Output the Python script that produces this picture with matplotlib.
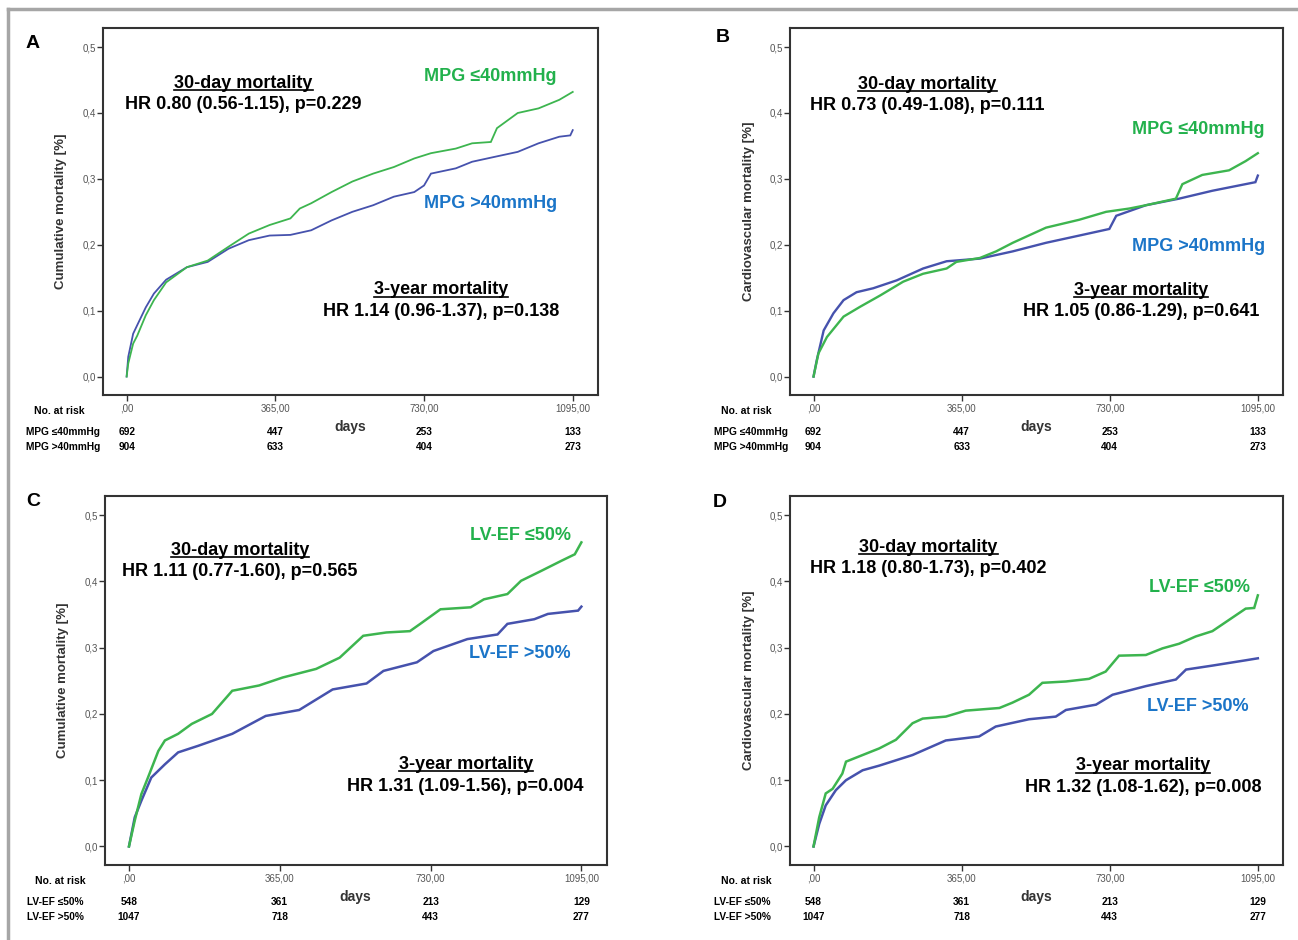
import matplotlib
matplotlib.use('Agg')
import matplotlib.pyplot as plt
from matplotlib.lines import Line2D

plt.rcParams['font.family'] = ['Liberation Sans', 'DejaVu Sans']

GREEN_LINE = '#3db54f'
BLUE_LINE = '#4652ad'
GREEN_TXT = '#22b14c'
BLUE_TXT = '#1b75c8'

# --- data (days, cumulative mortality) ---
a_green_days = [0, 4, 16, 26, 47, 67, 97, 148, 199, 250, 300, 351, 402, 425, 453, 503, 554, 605,
                656, 706, 747, 808, 848, 894, 909, 960, 1011, 1062, 1095]
a_green = [0, 0.02, 0.05, 0.062, 0.093, 0.116, 0.143, 0.166, 0.176, 0.197, 0.217, 0.230, 0.240,
           0.255, 0.263, 0.280, 0.296, 0.308, 0.318, 0.331, 0.339, 0.346, 0.354, 0.356, 0.377,
           0.400, 0.407, 0.420, 0.432]
a_blue_days = [0, 4, 16, 26, 47, 67, 97, 148, 199, 250, 300, 351, 402, 453, 503, 554, 605, 656,
               706, 730, 747, 808, 848, 900, 960, 1011, 1062, 1089, 1095]
a_blue = [0, 0.03, 0.065, 0.078, 0.105, 0.126, 0.147, 0.166, 0.174, 0.194, 0.207, 0.214, 0.215,
          0.222, 0.237, 0.250, 0.260, 0.273, 0.280, 0.290, 0.308, 0.316, 0.326, 0.333, 0.341,
          0.354, 0.364, 0.366, 0.374]

b_green_days = [0, 12, 33, 74, 115, 164, 221, 270, 328, 352, 410, 450, 491, 573, 655, 721, 778,
                819, 893, 909, 958, 1024, 1065, 1095]
b_green = [0, 0.035, 0.06, 0.091, 0.106, 0.123, 0.144, 0.156, 0.164, 0.174, 0.18, 0.19, 0.203,
           0.226, 0.238, 0.25, 0.255, 0.26, 0.27, 0.292, 0.306, 0.313, 0.327, 0.339]
b_blue_days = [0, 8, 25, 49, 74, 106, 147, 205, 270, 328, 410, 491, 573, 655, 729, 746, 819, 901,
               983, 1089, 1095]
b_blue = [0, 0.025, 0.07, 0.096, 0.116, 0.128, 0.134, 0.146, 0.164, 0.175, 0.179, 0.19, 0.203,
          0.214, 0.224, 0.244, 0.26, 0.27, 0.282, 0.295, 0.305]

c_green_days = [0, 14, 30, 46, 71, 87, 119, 152, 201, 250, 315, 372, 453, 510, 567, 623, 680,
                705, 754, 827, 859, 916, 949, 998, 1046, 1079, 1095]
c_green = [0, 0.039, 0.079, 0.104, 0.144, 0.16, 0.17, 0.185, 0.2, 0.235, 0.243, 0.255, 0.268,
           0.285, 0.318, 0.323, 0.325, 0.336, 0.358, 0.361, 0.373, 0.381, 0.401, 0.416, 0.431,
           0.441, 0.459]
c_blue_days = [0, 14, 30, 54, 87, 119, 168, 250, 331, 412, 493, 575, 616, 697, 737, 819, 892, 916,
               981, 1014, 1087, 1095]
c_blue = [0, 0.044, 0.069, 0.104, 0.124, 0.142, 0.152, 0.17, 0.197, 0.206, 0.237, 0.246, 0.265,
          0.278, 0.295, 0.313, 0.32, 0.336, 0.343, 0.351, 0.356, 0.362]

d_green_days = [0, 14, 30, 47, 71, 80, 121, 162, 203, 244, 269, 326, 375, 458, 490, 531, 564, 622,
                679, 720, 753, 819, 860, 901, 942, 983, 1024, 1065, 1086, 1095]
d_green = [0, 0.044, 0.08, 0.087, 0.11, 0.128, 0.138, 0.148, 0.161, 0.186, 0.193, 0.196, 0.205,
           0.209, 0.217, 0.229, 0.247, 0.249, 0.253, 0.264, 0.288, 0.289, 0.299, 0.306, 0.317,
           0.325, 0.342, 0.359, 0.36, 0.379]
d_blue_days = [0, 14, 30, 55, 80, 121, 162, 244, 326, 408, 449, 531, 597, 622, 696, 737, 819, 893,
               918, 983, 1065, 1095]
d_blue = [0, 0.034, 0.062, 0.085, 0.1, 0.115, 0.122, 0.138, 0.16, 0.166, 0.181, 0.192, 0.196,
          0.206, 0.214, 0.229, 0.242, 0.252, 0.267, 0.273, 0.281, 0.284]

# numbers at risk
mpg_low_risk = [692, 447, 253, 133]
mpg_high_risk = [904, 633, 404, 273]
ef_low_risk = [548, 361, 213, 129]
ef_high_risk = [1047, 718, 443, 277]

x_ticks = [0, 365, 730, 1095]
x_ticklabels = [',00', '365,00', '730,00', '1095,00']
y_ticks = [0.0, 0.1, 0.2, 0.3, 0.4, 0.5]
y_ticklabels = ['0,0', '0,1', '0,2', '0,3', '0,4', '0,5']

W, H = 1298, 940
fig = plt.figure(figsize=(W / 100, H / 100), dpi=100)
underlined = []


def px_rect(left, top, right, bottom):
    return [left / W, 1 - bottom / H, (right - left) / W, (bottom - top) / H]


def draw_panel(rect, letter, letter_xy, ylabel, green, blue, names, risks, hr30, hr3y, pos, lw):
    ax = fig.add_axes(rect)
    ax.plot(blue[0], blue[1], color=BLUE_LINE, lw=lw, solid_joinstyle='miter')
    ax.plot(green[0], green[1], color=GREEN_LINE, lw=lw, solid_joinstyle='miter')
    ax.set_xlim(-58, 1157)
    ax.set_ylim(-0.028, 0.529)
    ax.set_xticks(x_ticks)
    ax.set_xticklabels(x_ticklabels)
    ax.set_yticks(y_ticks)
    ax.set_yticklabels(y_ticklabels)
    ax.tick_params(direction='out', length=4, width=1, color='#333333', labelsize=7,
                   labelcolor='#555555')
    ax.tick_params(axis='y', pad=1)
    ax.tick_params(axis='x', pad=2)
    for s in ax.spines.values():
        s.set_linewidth(1.5)
        s.set_color('#333333')
    ax.set_ylabel(ylabel, fontsize=9.5, fontweight='bold', color='#333333')
    ax.yaxis.set_label_coords(-0.072, 0.5)

    fig.text(letter_xy[0] / W, 1 - letter_xy[1] / H, letter, fontsize=14, fontweight='bold',
             ha='center', va='center')

    t = ax.text(pos[0][0], pos[0][1], '30-day mortality', fontsize=13, fontweight='bold',
                ha='center', va='center')
    underlined.append(t)
    ax.text(pos[0][0], pos[0][1] - 0.032, hr30, fontsize=13, fontweight='bold',
            ha='center', va='center')
    t = ax.text(pos[1][0], pos[1][1], '3-year mortality', fontsize=13, fontweight='bold',
                ha='center', va='center')
    underlined.append(t)
    ax.text(pos[1][0], pos[1][1] - 0.033, hr3y, fontsize=13, fontweight='bold',
            ha='center', va='center')
    ax.text(pos[2][0], pos[2][1], names[0], fontsize=13, fontweight='bold', color=GREEN_TXT,
            ha='right', va='center')
    ax.text(pos[3][0], pos[3][1], names[1], fontsize=13, fontweight='bold', color=BLUE_TXT,
            ha='right', va='center')

    # risk table under the x axis
    tr = ax.get_xaxis_transform()
    ax.text(548, -0.087, 'days', transform=tr, fontsize=10, fontweight='bold', color='#333333',
            ha='center', va='center', clip_on=False)
    ax.text(-228, -0.044, 'No. at risk', transform=tr, fontsize=7.5, fontweight='bold',
            ha='left', va='center', clip_on=False)
    for row, (name, vals) in enumerate(zip(names, risks)):
        yy = -0.101 - 0.04 * row
        ax.text(-246, yy, name, transform=tr, fontsize=7.3, fontweight='bold',
                ha='left', va='center', clip_on=False)
        for d, v in zip(x_ticks, vals):
            ax.text(d, yy, str(v), transform=tr, fontsize=7.3, fontweight='bold',
                    ha='center', va='center', clip_on=False)
    return ax


mpg_names = ['MPG \u226440mmHg', 'MPG >40mmHg']
ef_names = ['LV-EF \u226450%', 'LV-EF >50%']

draw_panel(px_rect(103, 28, 598, 395), 'A', (33, 43), 'Cumulative mortality [%]',
           (a_green_days, a_green), (a_blue_days, a_blue), mpg_names,
           [mpg_low_risk, mpg_high_risk],
           'HR 0.80 (0.56-1.15), p=0.229', 'HR 1.14 (0.96-1.37), p=0.138',
           [(287, 0.445), (772, 0.132), (1056, 0.456), (1056, 0.263)], 1.3)
draw_panel(px_rect(790, 28, 1283, 395), 'B', (723, 38), 'Cardiovascular mortality [%]',
           (b_green_days, b_green), (b_blue_days, b_blue), mpg_names,
           [mpg_low_risk, mpg_high_risk],
           'HR 0.73 (0.49-1.08), p=0.111', 'HR 1.05 (0.86-1.29), p=0.641',
           [(281, 0.444), (807, 0.131), (1112, 0.375), (1112, 0.197)], 1.7)
draw_panel(px_rect(105, 496, 607, 865), 'C', (33, 501), 'Cumulative mortality [%]',
           (c_green_days, c_green), (c_blue_days, c_blue), ef_names,
           [ef_low_risk, ef_high_risk],
           'HR 1.11 (0.77-1.60), p=0.565', 'HR 1.31 (1.09-1.56), p=0.004',
           [(268, 0.447), (815, 0.124), (1071, 0.470), (1068, 0.292)], 1.8)
draw_panel(px_rect(790, 496, 1283, 865), 'D', (720, 503), 'Cardiovascular mortality [%]',
           (d_green_days, d_green), (d_blue_days, d_blue), ef_names,
           [ef_low_risk, ef_high_risk],
           'HR 1.18 (0.80-1.73), p=0.402', 'HR 1.32 (1.08-1.62), p=0.008',
           [(283, 0.452), (812, 0.122), (1075, 0.391), (1073, 0.211)], 1.8)

# gray frame lines at top and left
fig.add_artist(Line2D([8 / W, 1], [1 - 9 / H, 1 - 9 / H], color='#a6a6a6', lw=2.5))
fig.add_artist(Line2D([8 / W, 8 / W], [0, 1 - 9 / H], color='#a6a6a6', lw=2.5))

# underline the headings
fig.canvas.draw()
renderer = fig.canvas.get_renderer()
for t in underlined:
    bb = t.get_window_extent(renderer)
    y = (bb.y0 + 1.5) / H
    fig.add_artist(Line2D([bb.x0 / W, bb.x1 / W], [y, y], color='black', lw=1.2))

fig.savefig('out.png', dpi=100)
